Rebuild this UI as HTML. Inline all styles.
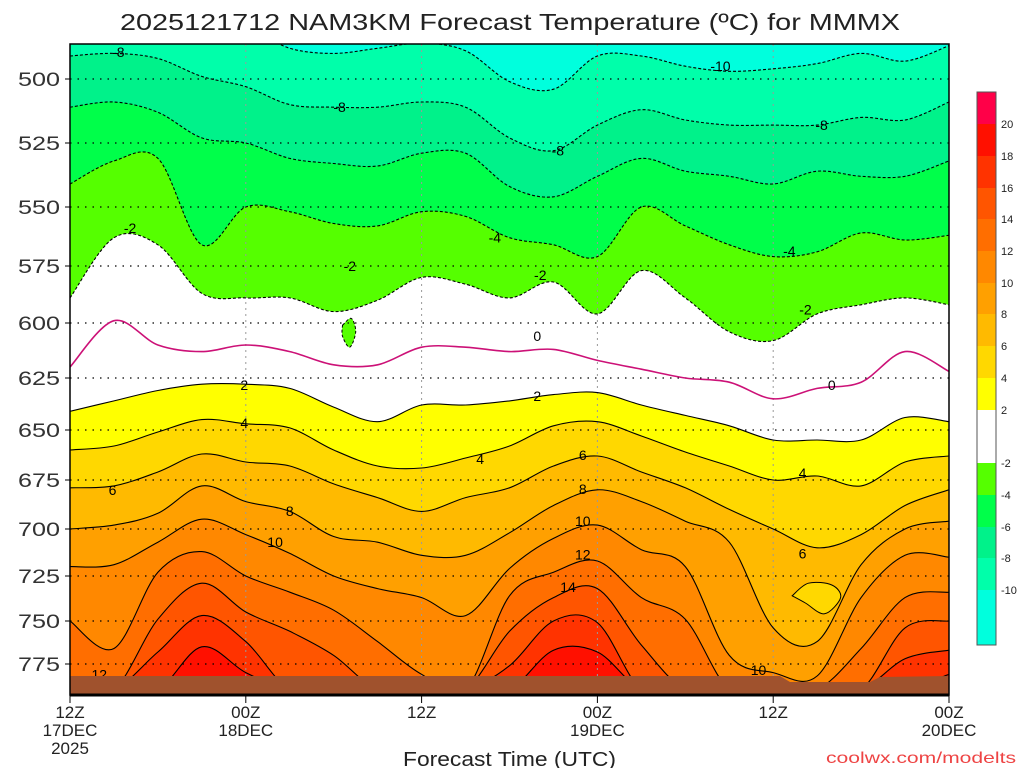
<!DOCTYPE html>
<html><head><meta charset="utf-8"><style>
html,body{margin:0;padding:0;background:#fff;}
svg{display:block;font-family:"Liberation Sans",sans-serif;}
</style></head><body>
<svg id="chart" width="1024" height="768" viewBox="0 0 1024 768" xmlns="http://www.w3.org/2000/svg">
<defs><clipPath id="plotclip"><rect x="70" y="44" width="879" height="651"/></clipPath></defs>
<rect width="1024" height="768" fill="#fff"/>
<text x="120" y="30" font-size="23" textLength="780" lengthAdjust="spacingAndGlyphs" fill="#222">2025121712 NAM3KM Forecast Temperature (ºC) for MMMX</text>
<g id="plot" clip-path="url(#plotclip)"></g>
<g id="axes"></g>
<g id="cbar"></g>
<text x="403" y="766" font-size="20" textLength="213" lengthAdjust="spacingAndGlyphs" fill="#222">Forecast Time (UTC)</text>
<text x="826" y="763" font-size="16" textLength="190" lengthAdjust="spacingAndGlyphs" fill="#ee4444">coolwx.com/modelts</text>
</svg>
<script>
const hours=[0,3,6,9,12,15,18,21,24,27,30,33,36,39,42,45,48,51,54,57,60];
const tm10=[480,480,480,480,480,488,490,488,486,489,501,504,491,491,495,497,496,494,490,493,487];
const tm8=[491,490,492,499,503,510,511,511,509,511,523,528,518,512,516,518,518,518,515,516,509];
const tm6=[511,509,513,523,525,531,533,534,529,529,542,546,538,531,536,538,541,536,538,538,532];
const tm4=[541,532,531,566,550,552,557,558,552,554,563,566,571,550,558,566,571,569,561,564,562];
const tm2=[589,563,566,587,589,589,595,590,580,583,589,582,596,577,589,604,608,596,592,589,592];
const t0=[620,599,610,613,610,613,619,619,611,611,613,612,617,621,625,627,635,630,627,613,622];
const t2=[641,636,631,628,628,630,639,646,638,638,636,633,632,638,643,648,655,655,655,644,646];
const t4=[660,658,651,645,647,649,660,668,669,664,658,648,646,653,661,668,675,673,678,666,663];
const t6=[679,678,671,662,666,668,677,684,691,684,679,668,663,671,679,690,700,710,703,688,680];
const t8=[700,698,692,678,686,691,704,707,714,714,702,688,680,686,696,707,754,762,719,700,696];
const t10=[720,719,707,695,703,713,725,732,737,747,721,705,698,711,720,770,780,782,737,714,715];
const t12=[750,766,723,712,725,734,744,762,781,790,736,723,717,737,749,790,790,790,766,737,734];
const t14=[790,790,749,729,745,756,770,790,790,790,756,737,732,764,790,790,790,790,790,754,750];
const t16=[790,790,768,747,762,790,790,790,790,790,776,750,751,790,790,790,790,790,790,772,767];
const t18=[790,790,790,765,780,790,790,790,790,790,790,767,768,790,790,790,790,790,790,790,781];
const pocketHours=[49.3,50.4,52.0,52.6,51.5,50.2];
const pocketP=[736,729,730,737,746,740];
const islandHours=[18.6,19.2,19.5,19.1,18.6];
const islandP=[601,598,604,611,606];
const pTicks=[500,525,550,575,600,625,650,675,700,725,750,775];
const timeTicks=[0,12,24,36,48,60];
const timeLabels=[["12Z","17DEC","2025"],["00Z","18DEC"],["12Z"],["00Z","19DEC"],["12Z"],["00Z","20DEC"]];
const cbarLabels=["20","18","16","14","12","10","8","6","4","2","-2","-4","-6","-8","-10"];
const labelHours=[3.3,18.4,33.3,44.4,51.3,4.1,19.1,29,32.1,49.1,50.2,31.9,52,11.9,31.9,11.9,28,50,2.9,35,50,15,35,14,35,47,35,2,34];
const labelP=[489.5,511,528,495,518,559,575,563,579,568.6,594,606,628.4,628.4,633.6,646.6,664.5,671.5,680.1,662.5,713,690.8,679.6,707,696,778.5,713.5,781,731];
const labelText=["-8","-8","-8","-10","-8","-2","-2","-4","-2","-4","-2","0","0","2","2","4","4","4","6","6","6","8","8","10","10","10","12","12","14"];

const NS="http://www.w3.org/2000/svg";
const tickPix=[79,143,207,266,323,378,430,480,529,576,621,664];
const X0=70,X1=949,Y0=44,Y1=695;
function xOf(h){return X0+h*(X1-X0)/60;}
function yOf(p){
  const n=pTicks.length;
  if(p<=pTicks[0]) return tickPix[0]+(p-pTicks[0])*(tickPix[1]-tickPix[0])/(pTicks[1]-pTicks[0]);
  for(let i=0;i<n-1;i++){ if(p<=pTicks[i+1]) return tickPix[i]+(p-pTicks[i])*(tickPix[i+1]-tickPix[i])/(pTicks[i+1]-pTicks[i]); }
  return tickPix[n-1]+(p-pTicks[n-1])*(tickPix[n-1]-tickPix[n-2])/(pTicks[n-1]-pTicks[n-2]);
}
function mk(tag,attrs,parent){const e=document.createElementNS(NS,tag);for(const k in attrs)e.setAttribute(k,attrs[k]);parent.appendChild(e);return e;}
function ptsOf(arr){return hours.map((h,i)=>[xOf(h),yOf(arr[i])]);}
function smooth(P){
  let d="";
  for(let i=0;i<P.length-1;i++){
    const p0=P[Math.max(i-1,0)],p1=P[i],p2=P[i+1],p3=P[Math.min(i+2,P.length-1)];
    const c1=[p1[0]+(p2[0]-p0[0])/6,p1[1]+(p2[1]-p0[1])/6];
    const c2=[p2[0]-(p3[0]-p1[0])/6,p2[1]-(p3[1]-p1[1])/6];
    d+=" C"+c1[0].toFixed(1)+","+c1[1].toFixed(1)+" "+c2[0].toFixed(1)+","+c2[1].toFixed(1)+" "+p2[0].toFixed(1)+","+p2[1].toFixed(1);
  }
  return d;
}
function lineD(arr){const P=ptsOf(arr);return "M"+P[0][0].toFixed(1)+","+P[0][1].toFixed(1)+smooth(P);}
const plot=document.getElementById('plot');
const levels=[tm10,tm8,tm6,tm4,tm2,t2,t4,t6,t8,t10,t12,t14,t16,t18];
const levelNames=["m10","m8","m6","m4","m2","2","4","6","8","10","12","14","16","18"];
const bandAbove=["#00ffdd","#00ffaa","#00f28a","#00ff4a","#55ff00","#ffffff","#ffff00","#ffd800","#ffba00","#ffa000","#ff8800","#ff6e00","#ff5500","#ff3300"];
const warmest="#ff1000";
const bg=mk('rect',{x:X0,y:Y0,width:X1-X0,height:Y1-Y0,fill:warmest},plot);


for(let k=levels.length-1;k>=0;k--){
  const P=ptsOf(levels[k]);
  const d="M"+X0+","+(Y0-5)+" L"+P[0][0].toFixed(1)+","+P[0][1].toFixed(1)+smooth(P)+" L"+X1+","+(Y0-5)+" Z";
  const band=mk('path',{d:d,fill:bandAbove[k]},plot);
  
  
}
function closedD(hs,ps){const P=hs.map((h,i)=>[xOf(h),yOf(ps[i])]);P.push(P[0]);return "M"+P[0][0].toFixed(1)+","+P[0][1].toFixed(1)+smooth(P)+" Z";}
const pk=mk('path',{d:closedD(pocketHours,pocketP),fill:"#ffd800",stroke:"#000","stroke-width":1},plot);


const isl=mk('path',{d:closedD(islandHours,islandP),fill:"#55ff00",stroke:"#000","stroke-width":1,"stroke-dasharray":"3,2"},plot);


pTicks.forEach(p=>{
  const g=mk('line',{x1:X0,x2:X1,y1:yOf(p),y2:yOf(p),stroke:"#000","stroke-width":1.2,"stroke-dasharray":"1.5,6"},plot);
  
  
});
[12,24,36,48].forEach(h=>{
  const g=mk('line',{x1:xOf(h),x2:xOf(h),y1:Y0,y2:Y1,stroke:"#999","stroke-width":1,"stroke-dasharray":"2,4"},plot);
  
  
});
for(let k=0;k<levels.length;k++){
  const neg=k<5;
  const c=mk('path',{d:lineD(levels[k]),fill:"none",stroke:"#000","stroke-width":1.1,"stroke-dasharray":neg?"3,2":"none"},plot);
  
  
}
const z=mk('path',{d:lineD(t0),fill:"none",stroke:"#cc1177","stroke-width":1.6},plot);


labelText.forEach((t,i)=>{
  const lb=mk('text',{x:xOf(labelHours[i]),y:yOf(labelP[i])+5,"font-size":14,"text-anchor":"middle",fill:"#000"},plot);
  lb.textContent=t;
  
  
});
const gr=mk('path',{d:"M70,676 L780,676 L790,682 L870,682 L880,677 L949,676 L949,695 L70,695 Z",fill:"#a0522d"},plot);


const ax=document.getElementById('axes');
const fr=mk('rect',{x:X0,y:Y0,width:X1-X0,height:Y1-Y0,fill:"none",stroke:"#000","stroke-width":1.5},ax);


mk('line',{x1:X0,x2:X1,y1:Y1,y2:Y1,stroke:"#000","stroke-width":3},ax);
pTicks.forEach(p=>{
  const t=mk('text',{x:18,y:yOf(p)+7,"font-size":19,textLength:42,lengthAdjust:"spacingAndGlyphs",fill:"#333"},ax);
  t.textContent=p;
  
  
  mk('line',{x1:X0-5,x2:X0,y1:yOf(p),y2:yOf(p),stroke:"#000"},ax);
});
timeTicks.forEach((h,i)=>{
  mk('line',{x1:xOf(h),x2:xOf(h),y1:Y1,y2:Y1+8,stroke:"#000"},ax);
  timeLabels[i].forEach((s,j)=>{
    const t=mk('text',{x:xOf(h),y:718+j*18,"font-size":17,"text-anchor":"middle",fill:"#222"},ax);
    t.textContent=s;
    
    
  });
});
const cb=document.getElementById('cbar');
const cbColors=["#ff0048","#ff1000","#ff3300","#ff5500","#ff6e00","#ff8800","#ffa000","#ffba00","#ffd800","#ffff00","#ffffff","#55ff00","#00ff4a","#00f28a","#00ffaa","#00ffdd"];
const cbEdges=[92,124,156,188,219,251,283,314,346,378,410,463,495,527,558,590,645];
cbColors.forEach((c,i)=>{
  const r=mk('rect',{x:977,y:cbEdges[i],width:19,height:cbEdges[i+1]-cbEdges[i],fill:c},cb);
  
  
});
mk('rect',{x:977,y:92,width:19,height:553,fill:"none",stroke:"#555","stroke-width":1},cb);
cbarLabels.forEach((s,i)=>{
  const t=mk('text',{x:1001,y:cbEdges[i+1]+4,"font-size":11,fill:"#222"},cb);
  t.textContent=s;
  
  
});
</script>
</body></html>
